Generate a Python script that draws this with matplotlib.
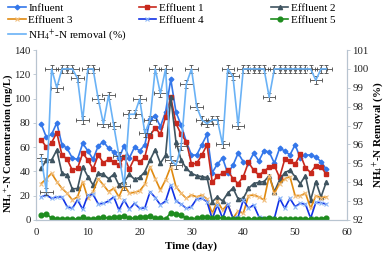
import numpy as np
import matplotlib
matplotlib.use('Agg')
import matplotlib.pyplot as plt

plt.rcParams['font.family'] = ['Liberation Serif', 'DejaVu Serif']
plt.rcParams['mathtext.fontset'] = 'stix'

# -----------------------------
# Data
# -----------------------------
days = list(range(1, 57))

influent = [79, 68, 70.5, 80, 62, 59, 51, 50, 63, 57, 50, 61, 64.5, 59, 56, 51, 61, 51, 60, 57,
            62, 83, 85.6, 77, 89, 116, 89, 78, 64.5, 53.5, 53.5, 62, 70.5, 39, 46, 51, 38.4, 45, 55, 48,
            46.7, 55, 48.6, 57, 56, 46.7, 59, 57, 53.5, 62, 51, 53.5, 53.5, 52, 48, 42]
effluent1 = [66, 60, 63.7, 72, 53.5, 50, 41, 42.5, 55, 49.4, 42, 53.5, 47, 50, 47.5, 45, 52, 42, 51, 47.5,
             52, 69.5, 76, 70.5, 85, 101, 79.6, 70.5, 64.5, 46, 46.7, 53.5, 62, 31, 36, 38.4, 41, 34, 30, 35.7,
             47.5, 41, 37, 40, 43.6, 44.7, 35, 50, 48.6, 46, 54, 43, 39, 44.7, 44, 37.6]
effluent2 = [42.5, 49.4, 49.4, 57.6, 38.4, 37, 25.5, 26, 44, 35.7, 28.8, 38.4, 37.6, 34, 37.6, 28.8, 31.6, 37.6, 33.5, 35,
             39.8, 49.4, 58, 46.7, 53.5, 101, 64.5, 49.4, 42.5, 38.4, 36.5, 35.7, 35, 15, 19, 15.6, 22, 26.3, 17.3, 17.8,
             26, 30, 31, 31.6, 36.5, 23.3, 32.9, 39, 41, 35.7, 30, 36.5, 16.5, 31.6, 19, 31]
effluent3 = [30, 34, 38.4, 31.6, 26, 22, 16.5, 19, 31.6, 17.8, 23.3, 34, 28.8, 23.3, 26, 19, 28.8, 22, 22.8, 24,
             29.4, 44, 34, 24.7, 33, 44, 27.5, 22, 17.8, 20.6, 19, 20.6, 17.3, 5.5, 15.6, 8.2, 13, 1.4, 7.4, 5.5,
             20, 20.6, 19, 16.5, 36.5, 22, 30, 34, 35.7, 20, 20, 22, 9.6, 20, 18.4, 19]
effluent4 = [19, 20.6, 17.8, 19, 19, 11, 9.6, 16.5, 8.8, 20.6, 21, 13.2, 13.7, 15.6, 19, 8.2, 16.5, 8.8, 13.7, 9.6,
             10, 23.3, 18.4, 12.4, 15.6, 28.8, 15.6, 13, 9.6, 11, 17.3, 17.8, 15, 0.8, 12.4, 1.4, 13, 1.4, 2.7, 16.5,
             9.6, 12.4, 2.7, 1.4, 1.4, 1.4, 17.8, 9.6, 17.8, 11, 13.7, 13, 1.4, 14.5, 14.3, 13]
effluent5 = [4, 5, 1.4, 0.8, 0.8, 0.6, 0.6, 0.8, 2.2, 0.8, 0.8, 1.4, 2.2, 1.4, 2.2, 2.5, 3.3, 1.4, 1.4, 2.2,
             2.5, 3, 1.4, 1.4, 0.8, 6, 5, 4, 1.4, 0.8, 1.4, 2.2, 2.5, 1.4, 2.2, 1.4, 0.8, 0.8, 0.8, 0.8,
             0.8, 0.8, 0.8, 0.8, 1.4, 0.8, 0.8, 0.8, 0.8, 0.8, 0.8, 0.8, 0.8, 0.8, 0.8, 2]
removal = [95.3, 93.5, 100, 99, 100, 100, 100, 99.5, 97.3, 100, 100, 98.4, 97.1, 98.6, 97, 95.4, 93.8, 97.6, 97.6, 98.4,
           96.6, 97.3, 100, 98.7, 100, 95.2, 94.9, 95.9, 99.2, 100, 98, 97.3, 97.1, 97.3, 97.3, 96, 100, 99.6, 97, 100,
           100, 100, 100, 100, 98.5, 100, 100, 100, 100, 100, 100, 100, 100, 99.4, 100, 100]

# -----------------------------
# Figure
# -----------------------------
fig = plt.figure(figsize=(3.92, 2.54), dpi=100)
ax = fig.add_axes([0.092, 0.134, 0.793, 0.669])
ax2 = ax.twinx()

ln = 1.2
h_inf, = ax.plot(days, influent, color='#3477EA', lw=ln, marker='D', ms=2.4, label='Influent')
h_e1, = ax.plot(days, effluent1, color='#C8281C', lw=ln, marker='s', ms=3.4, label='Effluent 1')
h_e2, = ax.plot(days, effluent2, color='#3F5460', lw=ln, marker='^', ms=3, label='Effluent 2')
h_e3, = ax.plot(days, effluent3, color='#E08A10', lw=ln, marker='x', ms=2.6, mew=0.8,
                mec='#F2C080', label='Effluent 3')
h_e4, = ax.plot(days, effluent4, color='#1232E6', lw=ln, marker='x', ms=2.6, mew=0.8,
                mec='#8CB8F8', label='Effluent 4')
h_e5, = ax.plot(days, effluent5, color='#1E8C1E', lw=ln, marker='o', ms=3.4, label='Effluent 5')

ax2.errorbar(days, removal, xerr=1.2, yerr=0.2, color='#6AB2F6', lw=1.2,
             ecolor='#4A4A4A', elinewidth=0.6, capsize=1.5, capthick=0.6)
h_rem, = ax2.plot([], [], color='#6AB2F6', lw=1.2)

ax.set_xlim(0, 60)
ax.set_ylim(0, 140)
ax2.set_ylim(92, 101)
ax.set_xticks(range(0, 61, 10))
ax.set_yticks(range(0, 141, 20))
ax2.set_yticks(range(92, 102, 1))

for a in (ax, ax2):
    for s in a.spines.values():
        s.set_color('#B8C4D0')
        s.set_linewidth(0.8)
    a.spines['top'].set_visible(False)
    a.tick_params(labelsize=7.8, labelcolor='#222222', color='#B8C4D0', length=2.5, width=0.6, pad=1.5)
ax.tick_params(axis='x', length=0, pad=6)

ax.set_xlabel('Time (day)', fontsize=8, fontweight='bold', labelpad=3)
ax.set_ylabel('NH$_4$$^{+}$-N Concentration (mg/L)', fontsize=7.6, fontweight='bold')
ax.yaxis.set_label_coords(-0.069, 0.45)
ax2.set_ylabel('NH$_4$$^{+}$-N Removal (%)', fontsize=8, fontweight='bold', labelpad=1)

# legend in three columns above the plot
cols = [
    ([h_inf, h_e3, h_rem], ['Influent', 'Effluent 3', 'NH$_4$$^{+}$-N removal (%)'], 0.01),
    ([h_e1, h_e4], ['Effluent 1', 'Effluent 4'], 0.342),
    ([h_e2, h_e5], ['Effluent 2', 'Effluent 5'], 0.679),
]
for hs, labs, x in cols:
    fig.legend(hs, labs, loc='upper left', bbox_to_anchor=(x, 1.005), frameon=False,
               fontsize=8, handlelength=1.6, handletextpad=0.2, labelspacing=0.2,
               borderaxespad=0)

fig.savefig('out.png', dpi=100)
print('saved out.png')
